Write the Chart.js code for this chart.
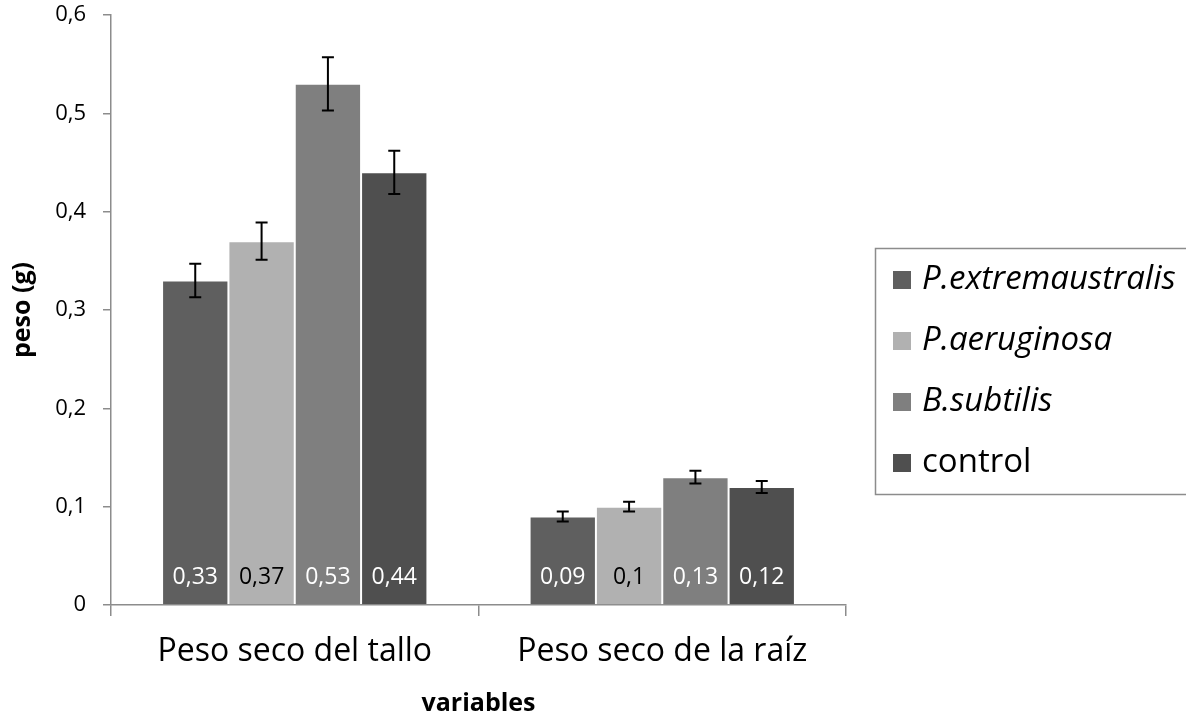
<!DOCTYPE html>
<html lang="es">
<head>
    <meta charset="UTF-8" />
    <title>Peso seco</title>
    <style>
        html, body { margin: 0; padding: 0; background: #fff; }
        .chart-container { width: 1186px; height: 716px; position: relative; }
    </style>
    <script src="https://cdn.jsdelivr.net/npm/chart.js"></script>
</head>
<body>
    <div class="chart-container">
        <canvas id="pesoChart" width="1186" height="716"></canvas>
    </div>

    <script>
        // Datos
        const categories = ['Peso seco del tallo', 'Peso seco de la raíz'];
        const seriesNames = ['P.extremaustralis', 'P.aeruginosa', 'B.subtilis', 'control'];
        const extremaustralis = [0.33, 0.09];
        const aeruginosa = [0.37, 0.10];
        const subtilis = [0.53, 0.13];
        const control = [0.44, 0.12];
        // error estándar (aprox.)
        const errExtremaustralis = [0.017, 0.005];
        const errAeruginosa = [0.019, 0.005];
        const errSubtilis = [0.027, 0.0065];
        const errControl = [0.022, 0.006];
        const yTicks = [0, 0.1, 0.2, 0.3, 0.4, 0.5, 0.6];

        const colors = ['#5f5f5f', '#b1b1b1', '#7f7f7f', '#4f4f4f'];
        const labelColors = ['#ffffff', '#000000', '#ffffff', '#ffffff'];
        const allValues = [extremaustralis, aeruginosa, subtilis, control];
        const allErrors = [errExtremaustralis, errAeruginosa, errSubtilis, errControl];

        const fmt = v => String(+v.toFixed(2)).replace('.', ',');

        // barras de error
        const errorBars = {
            id: 'errorBars',
            afterDatasetsDraw(chart) {
                const ctx = chart.ctx;
                const y = chart.scales.y;
                ctx.save();
                ctx.strokeStyle = '#000';
                ctx.lineWidth = 2;
                chart.data.datasets.forEach((ds, i) => {
                    const meta = chart.getDatasetMeta(i);
                    meta.data.forEach((bar, j) => {
                        const v = ds.data[j], e = allErrors[i][j];
                        const top = y.getPixelForValue(v + e);
                        const bot = y.getPixelForValue(v - e);
                        ctx.beginPath();
                        ctx.moveTo(bar.x, top); ctx.lineTo(bar.x, bot);
                        ctx.moveTo(bar.x - 6, top); ctx.lineTo(bar.x + 6, top);
                        ctx.moveTo(bar.x - 6, bot); ctx.lineTo(bar.x + 6, bot);
                        ctx.stroke();
                    });
                });
                ctx.restore();
            }
        };

        // etiquetas de valor dentro de la barra
        const valueLabels = {
            id: 'valueLabels',
            afterDatasetsDraw(chart) {
                const ctx = chart.ctx;
                const base = chart.scales.y.getPixelForValue(0);
                ctx.save();
                ctx.font = '23px "Open Sans", sans-serif';
                ctx.textAlign = 'center';
                ctx.textBaseline = 'middle';
                chart.data.datasets.forEach((ds, i) => {
                    chart.getDatasetMeta(i).data.forEach((bar, j) => {
                        ctx.fillStyle = labelColors[i];
                        ctx.fillText(fmt(ds.data[j]), bar.x, base - 28);
                    });
                });
                ctx.restore();
            }
        };

        // leyenda con recuadro a la derecha
        const boxLegend = {
            id: 'boxLegend',
            afterDraw(chart) {
                const ctx = chart.ctx;
                const left = 875, top = 248, h = 246;
                ctx.save();
                ctx.strokeStyle = '#8c8c8c';
                ctx.lineWidth = 1.5;
                ctx.strokeRect(left + 0.5, top + 0.5, 400, h);
                ctx.textBaseline = 'middle';
                chart.data.datasets.forEach((ds, i) => {
                    const cy = top + 32 + i * 61;
                    ctx.fillStyle = ds.backgroundColor;
                    ctx.fillRect(left + 18, cy - 9, 18, 18);
                    ctx.fillStyle = '#000';
                    const italic = ds.label !== 'control' ? 'italic ' : '';
                    ctx.font = italic + '33px "Open Sans", sans-serif';
                    ctx.fillText(ds.label, left + 47, cy);
                });
                ctx.restore();
            }
        };

        const ctx = document.getElementById('pesoChart').getContext('2d');
        new Chart(ctx, {
            type: 'bar',
            data: {
                labels: categories,
                datasets: seriesNames.map((name, i) => ({
                    label: name,
                    data: allValues[i],
                    backgroundColor: colors[i],
                    borderColor: '#ffffff',
                    borderWidth: 1,
                    barPercentage: 1,
                    categoryPercentage: 0.722
                }))
            },
            options: {
                responsive: false,
                animation: false,
                maintainAspectRatio: false,
                devicePixelRatio: 1,
                layout: { padding: { top: 15, right: 340, left: 0, bottom: 0 } },
                plugins: {
                    legend: { display: false },
                    tooltip: { enabled: false }
                },
                scales: {
                    x: {
                        afterFit(scale) { scale.height = 111; },
                        grid: {
                            offset: true,
                            drawOnChartArea: false,
                            color: '#8c8c8c',
                            tickLength: 11,
                            lineWidth: 1.5
                        },
                        border: { color: '#8c8c8c', width: 1.5 },
                        ticks: {
                            color: '#000',
                            padding: 17,
                            font: { family: '"Open Sans", sans-serif', size: 32 }
                        },
                        title: {
                            display: true,
                            text: 'variables',
                            color: '#000',
                            padding: { top: 0, bottom: 0 },
                            font: { family: '"Open Sans", sans-serif', size: 25, weight: 'bold', lineHeight: 1 }
                        }
                    },
                    y: {
                        min: 0,
                        max: 0.6,
                        afterFit(scale) {
                            scale.width = 111;
                            scale.paddingTop = 0;
                            scale.paddingBottom = 0;
                        },
                        afterBuildTicks(scale) { scale.ticks = yTicks.map(v => ({ value: v })); },
                        grid: {
                            drawOnChartArea: false,
                            color: '#8c8c8c',
                            tickLength: 8,
                            lineWidth: 1.5
                        },
                        border: { color: '#8c8c8c', width: 1.5 },
                        ticks: {
                            color: '#000',
                            padding: 17,
                            font: { family: '"Open Sans", sans-serif', size: 22 },
                            callback: v => v === 0 ? '0' : v.toFixed(1).replace('.', ',')
                        },
                        title: {
                            display: true,
                            text: 'peso (g)',
                            color: '#000',
                            padding: { top: 8, bottom: 0 },
                            font: { family: '"Open Sans", sans-serif', size: 25, weight: 'bold' }
                        }
                    }
                }
            },
            plugins: [errorBars, valueLabels, boxLegend]
        });
    </script>
</body>
</html>
